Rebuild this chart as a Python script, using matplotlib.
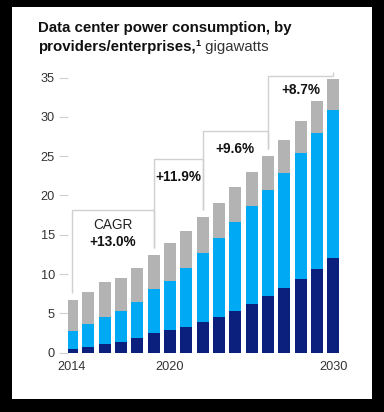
import matplotlib.pyplot as plt
from matplotlib.patches import Rectangle

plt.rcParams['font.family'] = ['Liberation Sans', 'DejaVu Sans']

years = list(range(2014, 2031))
navy_vals = [0.5, 0.76, 1.07, 1.32, 1.87, 2.55, 2.85, 3.3, 3.95, 4.58, 5.35, 6.2, 7.17, 8.23, 9.38, 10.65, 12.0]
blue_tops = [2.8, 3.6, 4.6, 5.3, 6.5, 8.06, 9.12, 10.8, 12.7, 14.6, 16.6, 18.7, 20.7, 22.9, 25.4, 28.0, 30.9]
totals = [6.7, 7.76, 9.0, 9.46, 10.8, 12.4, 14.0, 15.5, 17.3, 19.1, 21.1, 23.0, 25.0, 27.1, 29.5, 32.0, 34.8]

# brackets: (start year, end year, level, label)
brackets = [(2014, 2019, 18.1, "+13.0%"), (2019, 2022, 24.6, "+11.9%"),
            (2022, 2026, 28.2, "+9.6%"), (2026, 2030, 35.2, "+8.7%")]
label_levels = [14.1, 22.3, 25.9, 33.4]

navy = "#0b1f7c"
blue = "#00a9f4"
gray = "#b3b3b3"
line_gray = "#d0d0d0"

fig = plt.figure(figsize=(3.84, 4.12), dpi=100, facecolor="black")
fig.patches.append(Rectangle((12 / 384, 13 / 412), 360 / 384, 392 / 412,
                             transform=fig.transFigure, facecolor="white",
                             edgecolor="none", zorder=-5))

ax = fig.add_axes([68 / 384, 59.3 / 412, 273.5 / 384, 283 / 412])
ax.set_facecolor("none")

w = 0.72
blue_vals = [b - n for b, n in zip(blue_tops, navy_vals)]
gray_vals = [t - b for t, b in zip(totals, blue_tops)]
ax.bar(years, navy_vals, width=w, color=navy, zorder=3)
ax.bar(years, blue_vals, width=w, bottom=navy_vals, color=blue, zorder=3)
ax.bar(years, gray_vals, width=w, bottom=blue_tops, color=gray, zorder=3)

for (y0, y1, lvl, lab), ly in zip(brackets, label_levels):
    t0 = totals[years.index(y0)]
    t1 = totals[years.index(y1)]
    ax.plot([y0, y0, y1, y1], [t0 + 0.9, lvl, lvl, t1 + 0.9],
            color=line_gray, lw=1, zorder=2, solid_capstyle="butt")
    xm = (y0 + y1) / 2
    ax.text(xm, ly, lab, ha="center", va="center", fontsize=9.8,
            fontweight="bold", color="#111111")
ax.text(2016.5, 16.2, "CAGR", ha="center", va="center", fontsize=9.8, color="#222222")

ax.set_xlim(2013.755, 2030.5)
ax.set_ylim(0, 36)
ax.set_yticks(range(0, 36, 5))
ax.set_xticks([2014, 2020, 2030])
for s in ax.spines.values():
    s.set_visible(False)
ax.tick_params(axis="y", length=6.5, width=0.8, color=line_gray,
               labelsize=9.2, labelcolor="#333333", pad=3)
ax.tick_params(axis="x", length=0, labelsize=9.2, labelcolor="#333333", pad=6)

# title
fs = 10.8
fig.text(37.7 / 384, 1 - 28 / 412, "Data center power consumption, by",
         fontsize=fs, fontweight="bold", color="#111111", va="center")
t1 = fig.text(37.7 / 384, 1 - 47 / 412, "providers/enterprises,",
              fontsize=fs, fontweight="bold", color="#111111", va="center")
fig.canvas.draw()
r = fig.canvas.get_renderer()
bb = t1.get_window_extent(r)
x_sup = bb.x1 / fig.bbox.width
t2 = fig.text(x_sup + 0.001, 1 - 43 / 412, "1", fontsize=6.5, fontweight="bold",
              color="#111111", va="center")
fig.canvas.draw()
bb2 = t2.get_window_extent(r)
fig.text(bb2.x1 / fig.bbox.width, 1 - 47 / 412, " gigawatts", fontsize=fs,
         color="#333333", va="center")

plt.savefig("out.png", dpi=100, facecolor="black")
